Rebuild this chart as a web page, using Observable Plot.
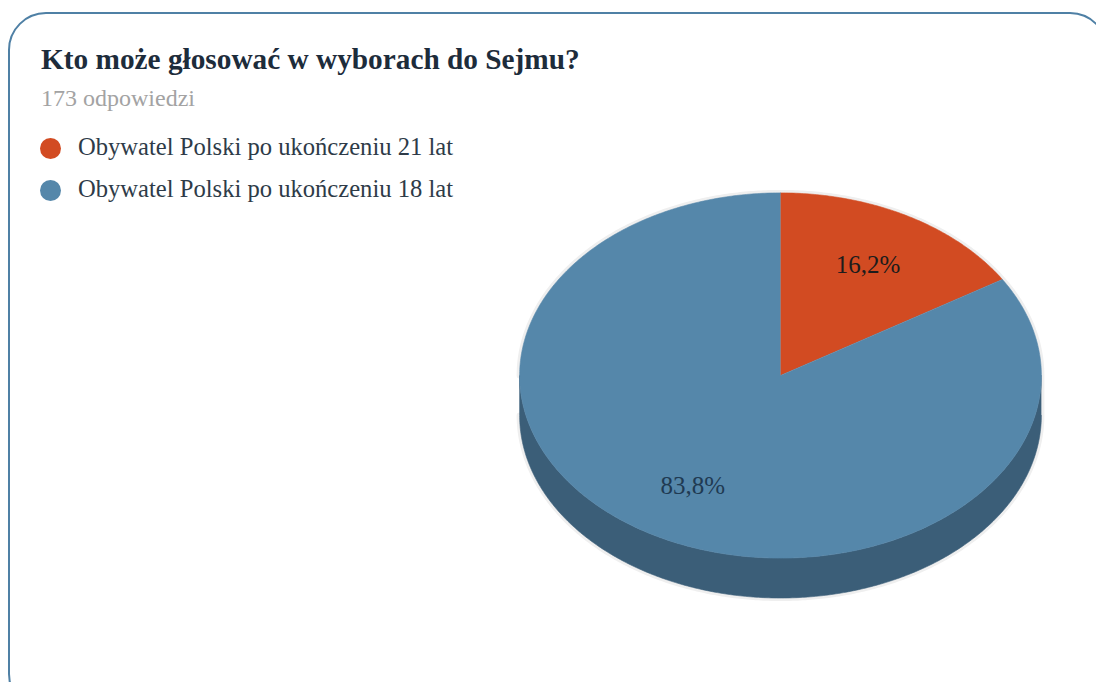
<!DOCTYPE html>
<html>
<head>
<meta charset="utf-8">
<script src="https://cdn.jsdelivr.net/npm/d3@7"></script>
<script src="https://cdn.jsdelivr.net/npm/@observablehq/plot@0.6"></script>
<style>
  html, body { margin: 0; padding: 0; background: #ffffff; width: 1096px; height: 682px; overflow: hidden; }
  .card { position: absolute; left: 8px; top: 12px; width: 1100px; height: 700px; box-sizing: border-box;
          border: 2px solid #4f80a5; border-radius: 38px; }
  .title { position: absolute; left: 41px; top: 45px; font-family: "Liberation Serif", serif; font-weight: bold; font-size: 29.3px; line-height: 1; color: #1d2c3b; white-space: nowrap; }
  .subtitle { position: absolute; left: 41px; top: 86px; font-family: "Liberation Serif", serif; font-size: 24px; line-height: 1; color: #a3a3a3; white-space: nowrap; }
  .legend { position: absolute; left: 40px; top: 135px; }
  .legend .item { position: relative; height: 42px; font-family: "Liberation Serif", serif; font-size: 24.6px; line-height: 1; color: #2e3b48; white-space: nowrap; }
  .legend .sw { position: absolute; left: 0; top: 3px; width: 21px; height: 21px; border-radius: 50%; }
  .legend .lab { position: absolute; left: 38px; top: 0; }
  #chart { position: absolute; left: 480px; top: 170px; }
</style>
</head>
<body>
<div class="card"></div>
<div class="title" id="title"></div>
<div class="subtitle" id="subtitle"></div>
<div class="legend" id="legend"></div>
<div id="chart"></div>
<script>
// ---- data ----
const titleText = "Kto może głosować w wyborach do Sejmu?";
const responsesLabel = "173 odpowiedzi";
const categories = ["Obywatel Polski po ukończeniu 21 lat", "Obywatel Polski po ukończeniu 18 lat"];
const counts = [28, 145];

// ---- styles ----
const topColors = ["#d24b22", "#5587aa"];
const sideColors = ["#8f3317", "#3b5e78"];
const labelColors = ["#1c1c1c", "#1f3a52"];

document.getElementById("title").textContent = titleText;
document.getElementById("subtitle").textContent = responsesLabel;
const legend = document.getElementById("legend");
categories.forEach((c, i) => {
  const item = document.createElement("div");
  item.className = "item";
  item.innerHTML = `<span class="sw" style="background:${topColors[i]}"></span><span class="lab"></span>`;
  item.querySelector(".lab").textContent = c;
  legend.appendChild(item);
});

// ---- geometry (3D pie built from the data angles) ----
const TAU = 2 * Math.PI;
const RX = 1, RY = 0.70, DEPTH = 0.153;
const total = d3.sum(counts);
let acc = 0;
const slices = categories.map((c, i) => {
  const a0 = acc / total * TAU; acc += counts[i];
  const a1 = acc / total * TAU;
  const pct = (counts[i] / total * 100).toFixed(1).replace(".", ",") + "%";
  return {c, i, a0, a1, mid: (a0 + a1) / 2, pct};
});
function arcPts(a0, a1, dy) {
  const n = Math.max(2, Math.ceil((a1 - a0) / 0.01));
  return d3.range(n + 1).map(k => {
    const a = a0 + (a1 - a0) * k / n;
    return [RX * Math.sin(a), RY * Math.cos(a) + dy];
  });
}
const rows = [];
// side walls (front half only)
slices.forEach(s => {
  const lo = Math.max(s.a0, Math.PI / 2), hi = Math.min(s.a1, 3 * Math.PI / 2);
  if (lo < hi) {
    const pts = arcPts(lo, hi, 0).concat(arcPts(lo, hi, -DEPTH).reverse());
    pts.forEach(([x, y]) => rows.push({key: "side" + s.i, shade: "side" + s.i, x, y}));
  }
});
// top faces
slices.forEach(s => {
  const pts = [[0, 0]].concat(arcPts(s.a0, s.a1, 0));
  pts.forEach(([x, y]) => rows.push({key: "top" + s.i, shade: "top" + s.i, x, y}));
});
// silhouette halo
const halo = arcPts(-Math.PI / 2, Math.PI / 2, 0).concat(arcPts(Math.PI / 2, 3 * Math.PI / 2, -DEPTH))
  .map(([x, y]) => ({x, y}));

const shadeDomain = slices.map(s => "top" + s.i).concat(slices.map(s => "side" + s.i));
const shadeRange = topColors.concat(sideColors);

const W = 600, H = 460, PX = 260.87;
const plot = Plot.plot({
  width: W, height: H, margin: 0,
  x: {domain: [-W / 2 / PX, W / 2 / PX], axis: null},
  y: {domain: [-(H - 205) / PX, 205 / PX], axis: null},
  color: {type: "ordinal", domain: shadeDomain, range: shadeRange},
  style: {background: "transparent", overflow: "visible"},
  marks: [
    Plot.line(halo, {x: "x", y: "y", stroke: "#efefef", strokeWidth: 6, curve: "linear"}),
    Plot.line(rows, {x: "x", y: "y", z: "key", fill: "shade", stroke: "shade", strokeWidth: 0.6, curve: "linear"}),
    Plot.text(slices, {
      x: d => 0.69 * RX * Math.sin(d.mid),
      y: d => 0.69 * RY * Math.cos(d.mid),
      text: "pct",
      fill: (d) => labelColors[d.i],
      fontSize: 25, fontFamily: "Liberation Serif, serif"
    })
  ]
});
document.getElementById("chart").appendChild(plot);
</script>
</body>
</html>
